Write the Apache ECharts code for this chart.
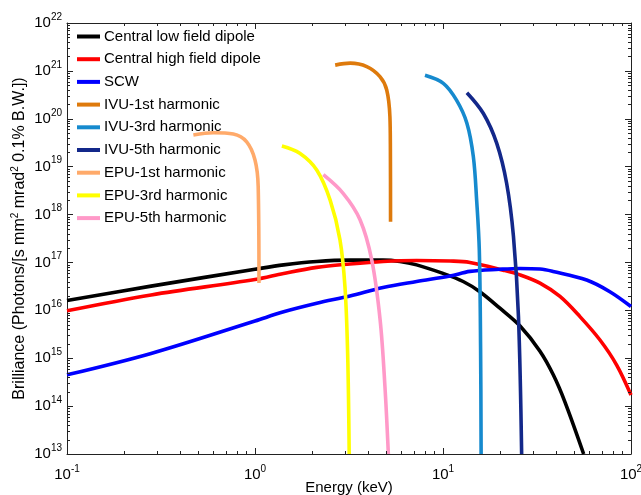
<!DOCTYPE html>
<html>
<head>
<meta charset="utf-8">
<script src="https://cdn.jsdelivr.net/npm/echarts@6/dist/echarts.min.js"></script>
<style>
  html, body { margin: 0; padding: 0; background: #fff; }
  #chart { width: 641px; height: 495px; }
</style>
</head>
<body>
<div id="chart"></div>
<script>
// Photon energy (keV) and brilliance (photons/[s mm^2 mrad^2 0.1% B.W.]) per source
const lowDipoleE  = [0.1, 0.28, 1, 1.42, 2.13, 3.2, 4.8, 5.9, 7.24, 10, 12.8, 15.7, 20, 25.7, 32.8, 38.6, 44.6, 56];
const lowDipoleB  = [1.6e16, 3.2e16, 7.2e16, 8.9e16, 1.05e17, 1.12e17, 1.12e17, 1.05e17, 8.9e16, 5.9e16, 4.0e16, 2.45e16, 1.12e16, 4.7e15, 1.4e15, 4.5e14, 1.2e14, 1.0e13];

const highDipoleE = [0.1, 0.28, 1, 1.42, 2.13, 3.2, 4.8, 7.24, 10.9, 13.9, 20.9, 25.7, 32.8, 41.9, 53.5, 68.4, 83.9, 100];
const highDipoleB = [9.8e15, 2.1e16, 4.4e16, 5.9e16, 7.9e16, 9.3e16, 1.05e17, 1.1e17, 1.07e17, 1.0e17, 6.9e16, 5.5e16, 3.7e16, 1.95e16, 7.4e15, 2.4e15, 7.2e14, 1.7e14];

const scwE = [0.1, 0.28, 1, 1.42, 2.13, 3.2, 4.8, 7.24, 10.9, 13.9, 20, 25.7, 32.8, 38.5, 58.1, 77.2, 100];
const scwB = [4.5e14, 1.26e15, 6.0e15, 9.3e15, 1.4e16, 2.0e16, 3.0e16, 4.0e16, 5.2e16, 6.5e16, 7.2e16, 7.5e16, 7.3e16, 6.5e16, 4.3e16, 2.45e16, 1.2e16];

const ivu1E = [2.67, 3.21, 3.93, 4.62, 5.02, 5.22, 5.25, 5.26];
const ivu1B = [1.32e21, 1.45e21, 1.23e21, 7.6e20, 4.0e20, 1.1e20, 2.2e19, 7.1e17];

const ivu3E = [8.02, 10.04, 11.8, 13.4, 14.5, 15.1, 15.6, 15.85, 15.95];
const ivu3B = [8.1e20, 5.5e20, 2.45e20, 8.1e19, 1.62e19, 2.0e18, 1.8e17, 1.5e15, 1.0e13];

const ivu5E = [13.4, 16.4, 19.3, 21.8, 23.7, 25.2, 26.2];
const ivu5B = [3.5e20, 1.29e20, 3.1e19, 4.5e18, 3.5e17, 7.4e15, 1.0e13];

const epu1E = [0.47, 0.60, 0.767, 0.903, 1.0, 1.04, 1.05];
const epu1B = [4.6e19, 5.1e19, 4.8e19, 3.3e19, 1.38e19, 3.8e18, 3.7e16];

const epu3E = [1.39, 1.73, 2.13, 2.51, 2.83, 3.01, 3.11, 3.17];
const epu3B = [2.7e19, 1.9e19, 8.5e18, 2.0e18, 3.0e17, 3.1e16, 1.26e15, 1.0e13];

const epu5E = [2.31, 2.95, 3.62, 4.18, 4.63, 4.91, 5.12];
const epu5B = [6.8e18, 2.75e18, 7.8e17, 1.12e17, 6.3e15, 2.6e14, 1.0e13];

const seriesNames = [
  'Central low field dipole', 'Central high field dipole', 'SCW',
  'IVU-1st harmonic', 'IVU-3rd harmonic', 'IVU-5th harmonic',
  'EPU-1st harmonic', 'EPU-3rd harmonic', 'EPU-5th harmonic'
];
const seriesE = [lowDipoleE, highDipoleE, scwE, ivu1E, ivu3E, ivu5E, epu1E, epu3E, epu5E];
const seriesB = [lowDipoleB, highDipoleB, scwB, ivu1B, ivu3B, ivu5B, epu1B, epu3B, epu5B];
const seriesColors = ['#000000', '#ff0000', '#0000ff', '#de7a0c', '#168ace', '#13288a', '#ffaa6a', '#ffff00', '#ff99c8'];

// Axis ranges and minor tick positions (2..9 per decade)
const xMin = 0.1, xMax = 100;
const yMin = 1e13, yMax = 1e22;
const xMinorTicks = [];
for (let d = -1; d < 2; d++) for (let m = 2; m <= 9; m++) xMinorTicks.push(m * Math.pow(10, d));
const yMinorTicks = [];
for (let d = 13; d < 22; d++) for (let m = 2; m <= 9; m++) yMinorTicks.push(m * Math.pow(10, d));

const AXIS_COLOR = '#222';
const FONT = 'Liberation Sans, Arial, sans-serif';

function powLabel(v) {
  const n = Math.round(Math.log10(v));
  return '{b|10}{e|' + n + '}';
}
const labelRich = {
  b: { fontSize: 15, lineHeight: 22, fontFamily: FONT, color: '#000' },
  e: { fontSize: 10, lineHeight: 10, verticalAlign: 'top', fontFamily: FONT, color: '#000' }
};

function zip(xs, ys) { return xs.map((x, i) => [x, ys[i]]); }

const lineSeries = seriesNames.map((name, i) => ({
  name: name,
  type: 'line',
  data: zip(seriesE[i], seriesB[i]),
  showSymbol: false,
  smooth: 0.35,
  color: seriesColors[i],
  lineStyle: { width: 3.6, color: seriesColors[i] },
  z: 3 + i
}));

const baseAxis = {
  type: 'log',
  logBase: 10,
  axisLine: { show: true, lineStyle: { color: AXIS_COLOR, width: 1 } },
  axisTick: { show: true, inside: true, length: 6, lineStyle: { color: AXIS_COLOR } },
  splitLine: { show: false },
  minorTick: { show: false }
};

const chart = echarts.init(document.getElementById('chart'), null, { renderer: 'canvas' });
chart.setOption({
  animation: false,
  backgroundColor: '#fff',
  grid: { left: 67, right: 10, top: 23, bottom: 41, containLabel: false, outerBoundsMode: 'none' },
  legend: {
    data: seriesNames,
    orient: 'vertical',
    left: 77,
    top: 29,
    padding: 0,
    itemWidth: 23,
    itemHeight: 4,
    itemGap: 7.7,
    icon: 'rect',
    textStyle: { fontSize: 15, lineHeight: 15, fontFamily: FONT, color: '#000', padding: [0, 0, 0, -1] },
    selectedMode: false
  },
  xAxis: [
    Object.assign({}, baseAxis, {
      position: 'bottom', min: xMin, max: xMax, splitNumber: 3,
      axisLabel: { margin: 10, formatter: powLabel, rich: labelRich },
      name: 'Energy (keV)', nameLocation: 'middle', nameGap: 26, nameMoveOverlap: false,
      nameTextStyle: { fontSize: 15, fontFamily: FONT, color: '#000' }
    }),
    Object.assign({}, baseAxis, {
      position: 'top', min: xMin, max: xMax, splitNumber: 3,
      axisLabel: { show: false }
    })
  ],
  yAxis: [
    Object.assign({}, baseAxis, {
      position: 'left', min: yMin, max: yMax, splitNumber: 9,
      axisLabel: { margin: 5, formatter: powLabel, rich: labelRich },
      name: 'Brilliance (Photons/[s mm{s|2} mrad{s|2} 0.1% B.W.])',
      nameLocation: 'middle', nameGap: 37, nameRotate: 90, nameMoveOverlap: false,
      nameTextStyle: {
        fontSize: 16, lineHeight: 20, fontFamily: FONT, color: '#000',
        rich: { s: { fontSize: 10, lineHeight: 10, verticalAlign: 'top', fontFamily: FONT, color: '#000' } }
      }
    }),
    Object.assign({}, baseAxis, {
      position: 'right', min: yMin, max: yMax, splitNumber: 9,
      axisLabel: { show: false }
    })
  ],
  series: lineSeries
});

// Minor ticks (2..9 in each decade) on all four sides, placed with the axes' own scales
const finder = { gridIndex: 0 };
const bottomLeft = chart.convertToPixel(finder, [xMin, yMin]);
const topRight = chart.convertToPixel(finder, [xMax, yMax]);
const MINOR_LEN = 3;
const minorTickLines = [];
function tickLine(x1, y1, x2, y2) {
  minorTickLines.push({
    type: 'line', silent: true, z: 100,
    shape: { x1: x1, y1: y1, x2: x2, y2: y2 },
    style: { stroke: AXIS_COLOR, lineWidth: 1 }
  });
}
xMinorTicks.forEach(v => {
  const x = Math.round(chart.convertToPixel(finder, [v, yMin])[0]) + 0.5;
  tickLine(x, bottomLeft[1], x, bottomLeft[1] - MINOR_LEN);
  tickLine(x, topRight[1], x, topRight[1] + MINOR_LEN);
});
yMinorTicks.forEach(v => {
  const y = Math.round(chart.convertToPixel(finder, [xMin, v])[1]) + 0.5;
  tickLine(bottomLeft[0], y, bottomLeft[0] + MINOR_LEN, y);
  tickLine(topRight[0], y, topRight[0] - MINOR_LEN, y);
});
chart.setOption({ graphic: { elements: minorTickLines } });
</script>
</body>
</html>
